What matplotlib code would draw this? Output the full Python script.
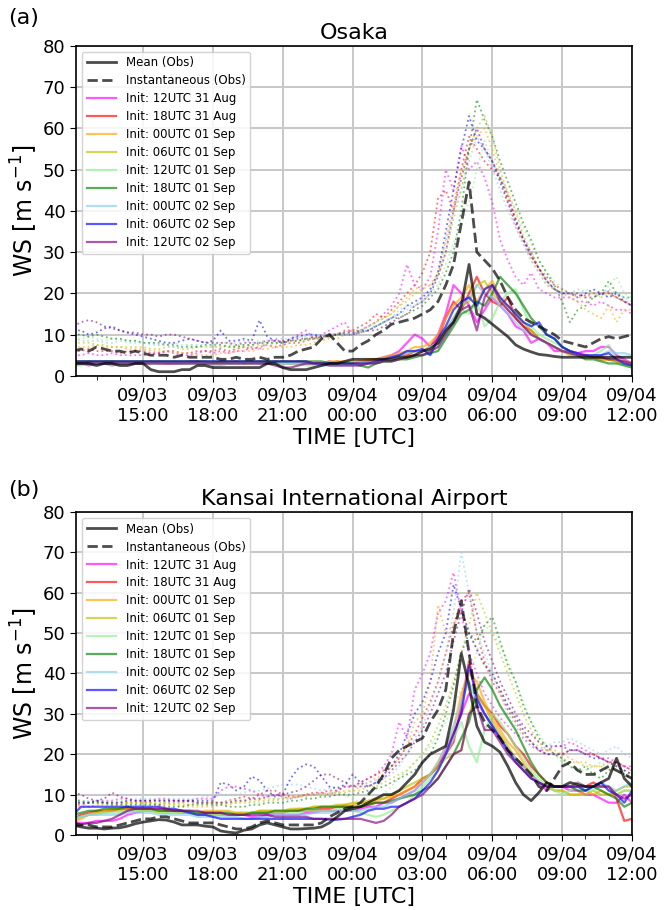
import numpy as np
import matplotlib
matplotlib.use("Agg")
import matplotlib.pyplot as plt

# ---------------- time axis (hours since 09/03 00:00 UTC), 20-min steps 09/03 12:00 -> 09/04 12:00
hours = 12 + np.arange(73) / 3.0

xtick_hours = [15, 18, 21, 24, 27, 30, 33, 36]
xtick_labels = ['09/03\n15:00', '09/03\n18:00', '09/03\n21:00', '09/04\n00:00',
                '09/04\n03:00', '09/04\n06:00', '09/04\n09:00', '09/04\n12:00']
minor_hours = [h for h in range(13, 36) if h not in xtick_hours]

init_labels = ['Init: 12UTC 31 Aug', 'Init: 18UTC 31 Aug', 'Init: 00UTC 01 Sep',
               'Init: 06UTC 01 Sep', 'Init: 12UTC 01 Sep', 'Init: 18UTC 01 Sep',
               'Init: 00UTC 02 Sep', 'Init: 06UTC 02 Sep', 'Init: 12UTC 02 Sep']
init_colors = ['magenta', 'red', 'orange', 'y', 'lightgreen', 'green',
               'skyblue', 'blue', 'purple']

# ======================= OSAKA =======================
osaka_obs_mean = [
    3, 3, 3, 2.5, 3, 3, 2.5, 2.5, 3,
    3, 1.5, 1, 1, 1, 1.5, 1.5, 2.5, 2.5,
    2, 2, 2, 2, 2, 2, 2, 3, 3,
    2, 1.5, 1.5, 1.5, 2, 2.5, 3, 3, 3.5,
    4, 4, 4, 4, 4, 4, 4.5, 4.5, 5,
    6, 6.5, 8, 11, 13, 17, 27, 15, 14,
    12.5, 11, 9.5, 7.5, 6.5, 5.8, 5.2, 5, 4.7,
    4.5, 4.5, 4.5, 4.5, 4.5, 4.5, 4.5, 4.5, 4.5,
    4.5]
osaka_obs_inst = [
    6, 6.5, 6, 7, 6.5, 6, 6, 5.5, 6,
    5.5, 5, 5, 5, 4.5, 5, 4.5, 4.5, 4.5,
    4.5, 4, 4, 4.5, 4, 4, 4.5, 4, 4.5,
    4.5, 5, 6, 6.5, 7, 9, 10, 8, 6,
    6, 7.5, 8.5, 10, 11, 12.5, 13, 13.5, 14,
    15, 16, 18, 22, 27, 37, 47, 30, 28,
    26, 23, 19, 16, 14, 13, 12, 11, 10,
    8.5, 8, 7.5, 7, 8, 9, 9.5, 9, 9.5,
    10]

osaka_mean_12z31 = [
    2.5, 3, 2.5, 3, 3, 2.5, 3, 3, 3,
    3, 3, 3.5, 3, 3, 3, 3.5, 3.5, 3,
    3, 3.5, 3, 3, 3, 3.5, 3, 3, 3.5,
    3, 3, 3.5, 3, 3, 3, 3.5, 3, 3,
    3, 3.5, 3.5, 4, 4.5, 5, 6, 8, 10,
    9, 7, 10, 15, 22, 20, 17, 13, 16,
    19, 17, 15, 12, 11, 8, 9, 8, 6,
    6, 6, 5.5, 6, 6, 7, 7, 5, 4,
    3]
osaka_mean_18z31 = [
    3, 3, 3.5, 3, 3, 3.5, 3, 3, 3,
    3, 3.5, 3, 3, 3, 3, 3, 3.5, 3,
    3, 3, 3, 3.5, 3, 3, 3, 3.5, 3,
    3.5, 3, 3, 3, 3, 3, 3, 3.5, 3,
    3, 3, 3.5, 4, 4, 4.5, 5, 5, 6,
    6, 7, 9, 14, 18, 16, 20, 24, 20,
    18, 17, 19, 14, 12, 11, 9, 8, 7,
    6, 5.5, 5, 4.5, 4.5, 4, 4, 3.5, 3,
    2.5]
osaka_mean_00z01 = [
    3.5, 3.5, 3.5, 3.5, 3.5, 3.5, 3.5, 3.5, 3.5,
    3.5, 3.5, 3.5, 3.5, 3.5, 3.5, 3.5, 3.5, 3.5,
    3, 3, 3.5, 3.5, 3, 3.5, 3.5, 3.5, 3.5,
    3.5, 3.5, 3.5, 3.5, 3, 3, 3.5, 3.5, 3.5,
    3.5, 3.5, 4, 4, 4.5, 5, 5.5, 6, 7,
    7, 8, 10, 14, 17, 19, 22, 18, 21,
    23, 19, 16, 14, 12, 10, 9, 8, 7,
    6, 5.5, 5, 4.5, 4.5, 4, 4, 3.5, 3.5,
    3]
osaka_mean_06z01 = [
    3, 3, 3, 3, 3.5, 3.5, 3, 3, 3,
    3, 3, 3, 3, 3.5, 3, 3, 3, 3,
    3, 3, 3, 3, 3, 3, 3.5, 3.5, 3,
    3, 3, 3, 3, 3, 3, 3, 3, 3,
    3, 3, 3.5, 3.5, 4, 4.5, 5, 5.5, 6,
    6, 7, 8, 11, 14, 17, 18, 22, 23,
    20, 18, 17, 15, 13, 11, 9, 8, 7,
    6, 5, 5, 4.5, 4.5, 4, 4, 3.5, 3,
    2.5]
osaka_mean_12z01 = [
    2.5, 2.5, 3, 3, 3, 2.5, 3, 3, 3,
    3, 3, 3, 3.5, 3, 3, 3, 3, 3,
    3, 3, 3, 3, 3.5, 3, 3, 3, 3,
    3, 3, 3, 2.5, 2.5, 3, 3, 3, 3,
    3, 2.5, 3, 3, 3.5, 3.5, 4, 4.5, 5,
    5, 5.5, 7, 10, 13, 16, 15, 18, 12,
    14, 18, 20, 21, 16, 12, 10, 9, 8,
    7, 6, 5, 4.5, 5, 6, 7.5, 4, 3,
    3]
osaka_mean_18z01 = [
    3.5, 3.5, 3.5, 3.5, 3.5, 3.5, 3.5, 3.5, 3.5,
    3.5, 3.5, 3.5, 3.5, 3.5, 3.5, 3.5, 3.5, 3.5,
    3.5, 3.5, 3.5, 3.5, 3.5, 3.5, 3.5, 3.5, 3.5,
    3.5, 3.5, 3.5, 3.5, 3.5, 3.5, 3, 3, 3,
    3, 2.5, 2, 3, 3.5, 3.5, 4, 4, 4.5,
    5, 5.5, 6, 9, 12, 15, 16, 18, 17,
    20, 24, 22, 20, 17, 14, 12, 10, 9,
    7, 6, 5, 4, 4, 3.5, 3, 3, 2.5,
    2]
osaka_mean_00z02 = [
    3, 3, 3, 3, 3, 3, 3, 3, 3,
    3, 3, 3, 3, 3, 3, 3, 3, 3,
    2.5, 2.5, 3, 3, 3, 3, 3, 3, 3,
    3, 3, 3, 3, 3, 2.5, 2.5, 2.5, 2.5,
    2.5, 3, 3, 3.5, 4, 4.5, 5, 5.5, 6,
    6, 7, 8, 11, 14, 17, 19, 22, 20,
    19, 17, 15, 13, 11, 10, 9, 8, 7,
    6, 5.5, 5, 5, 4.5, 5, 6, 5.5, 5.5,
    5]
osaka_mean_06z02 = [
    3.5, 3.5, 3.5, 3.5, 3.5, 3.5, 3.5, 3.5, 3.5,
    3.5, 3.5, 3.5, 3.5, 3.5, 3.5, 3.5, 3.5, 3.5,
    3.5, 3.5, 3.5, 3.5, 3.5, 3.5, 3.5, 3.5, 3.5,
    3.5, 3.5, 3.5, 3.5, 3, 3, 3, 3, 3,
    3, 3, 3, 3.5, 4, 4.5, 5, 6, 6,
    6.5, 5, 9, 12, 16, 18, 19, 17, 21,
    22, 19, 17, 15, 13, 12, 13, 10, 9,
    7, 6, 5.5, 5, 5, 5, 5.5, 4, 3,
    2.5]
osaka_mean_12z02 = [
    3, 3, 3, 3, 3, 3, 3, 3, 3,
    3, 3, 3, 3, 3, 3, 3, 3, 3,
    3, 3, 3, 3, 3, 3, 3, 3, 2.5,
    2, 2, 2.5, 3, 3, 3, 2.5, 2.5, 2.5,
    2.5, 2.5, 3, 3, 3.5, 3.5, 4, 4.5, 5,
    5, 6, 7, 10, 13, 16, 17, 11, 19,
    22, 18, 16, 14, 12, 10, 9, 8, 7,
    6, 5.5, 5, 5, 4.5, 4.5, 4, 4, 3.5,
    3]

osaka_max_12z31 = [
    5, 5, 5.5, 5, 5, 5.5, 5, 5, 5,
    5, 5, 5.5, 6, 5.5, 5, 5, 5.5, 6,
    5.5, 6, 5.5, 6, 6, 7, 6.5, 8, 9,
    8, 9, 10, 11, 9, 10, 11, 12, 13,
    10, 11, 12, 13, 15, 17, 20, 27, 22,
    21, 24, 35, 50, 45, 56, 50, 52, 48,
    42, 33, 28, 24, 22, 25, 21, 20, 19,
    19, 19, 18, 18, 17, 18, 17, 16, 16,
    15]
osaka_max_18z31 = [
    6, 6, 6.5, 6, 6, 6, 5.5, 6, 6,
    6, 5.5, 5.5, 6, 6, 5.5, 5.5, 6, 6,
    6, 6.5, 6, 6.5, 7, 6.5, 7, 7.5, 7,
    7.5, 8, 8, 8.5, 9, 9, 10, 10, 11,
    11, 12, 13, 15, 14, 16, 18, 20, 22,
    25, 30, 43, 45, 40, 50, 58, 55, 52,
    50, 48, 44, 38, 33, 30, 26, 24, 22,
    21, 20, 19.5, 19.5, 20, 20, 20.5, 19, 18,
    17]
osaka_max_00z01 = [
    7, 7, 7, 7.5, 7, 7, 7, 6.5, 6.5,
    6.5, 6, 6, 6, 5.5, 5.5, 5.5, 5, 5,
    5, 5.5, 5.5, 6, 6, 6, 6.5, 6.5, 7,
    7, 7, 7.5, 7.5, 8, 8.5, 9, 9, 10,
    10, 11, 12, 13, 14, 15, 17, 19, 21,
    22, 22, 25, 33, 42, 50, 55, 58, 60,
    55, 48, 42, 36, 32, 28, 25, 22, 21,
    20, 19, 18, 16, 15, 14, 17, 13, 16,
    16]
osaka_max_06z01 = [
    8, 8, 8, 7.5, 7.5, 7, 7, 7, 7,
    7, 6.5, 6.5, 7, 7, 6.5, 6.5, 7, 7,
    7, 7, 7.5, 7, 7, 7.5, 7.5, 8, 8,
    8, 8.5, 8.5, 9, 9, 9.5, 10, 10, 10.5,
    11, 11, 12, 13, 14, 15, 17, 18, 20,
    21, 22, 24, 30, 38, 45, 55, 60, 63,
    58, 50, 44, 40, 34, 30, 26, 23, 21,
    20, 20, 19, 19, 20, 19, 20, 19, 18,
    18]
osaka_max_12z01 = [
    9, 9, 9.5, 9, 8.5, 9, 9, 8.5, 8.5,
    8, 8, 7.5, 7.5, 8, 7.5, 7.5, 7, 7,
    7, 7, 7, 7.5, 7.5, 7, 7, 7.5, 7.5,
    8, 8, 8.5, 8.5, 9, 9, 9.5, 10, 10,
    10, 11, 12, 12, 13, 14, 15, 16, 17,
    18, 20, 22, 27, 32, 37, 42, 50, 57,
    52, 48, 45, 40, 36, 32, 28, 25, 23,
    21, 20, 20, 21, 20, 19, 22, 24, 20,
    19]
osaka_max_18z01 = [
    10, 10, 9.5, 10, 9.5, 9, 9, 8.5, 8.5,
    8, 8, 8, 7.5, 7.5, 7, 7, 7, 7.5,
    7.5, 7.5, 7, 7, 7.5, 7.5, 8, 8, 8,
    8, 8.5, 8.5, 9, 9, 9.5, 9.5, 10, 10,
    10, 10.5, 11, 12, 13, 14, 14, 15, 16,
    17, 19, 21, 25, 30, 40, 55, 67, 62,
    58, 52, 47, 42, 37, 33, 28, 25, 22,
    18, 13, 16, 17, 19, 20, 23, 20, 19,
    19]
osaka_max_00z02 = [
    9, 8.5, 8.5, 8.5, 8, 8, 8.5, 8, 8,
    8, 7.5, 7.5, 7.5, 7, 7, 7.5, 7.5, 7.5,
    7.5, 8, 8, 8, 8.5, 8, 8.5, 8.5, 9,
    9, 9, 9.5, 9.5, 10, 10, 10, 10.5, 10,
    10, 11, 12, 12, 13, 14, 16, 17, 17,
    18, 20, 25, 32, 40, 45, 52, 58, 55,
    50, 45, 40, 36, 32, 28, 25, 22, 21,
    20, 20, 21, 20, 20, 20, 21, 20, 19,
    18]
osaka_max_06z02 = [
    11, 11, 10, 10.5, 11.5, 12, 11, 10.5, 10,
    9.5, 9, 8.5, 8, 8, 8.5, 9, 8.5, 8,
    8.5, 11, 8.5, 8.5, 9, 8.5, 13.5, 9.5, 8.5,
    8, 9, 9.5, 10, 10, 9.5, 10, 10, 10.5,
    10.5, 11, 11, 12, 13, 14, 15, 17, 18,
    19, 21, 25, 35, 45, 55, 63, 57, 55,
    52, 47, 42, 37, 33, 29, 26, 23, 21,
    20, 20, 19, 20, 21, 20, 19, 20, 18,
    17]
osaka_max_12z02 = [
    12, 13, 13.5, 13, 12, 11.5, 11, 10.5, 10.5,
    10, 10, 9.5, 10, 10, 9.5, 9, 8.5, 8,
    8, 8, 8, 7.5, 8, 8, 8, 8.5, 8.5,
    8.5, 8.5, 9, 9, 9.5, 9.5, 9.5, 10, 10,
    10, 10.5, 11, 11, 12, 13, 14, 15, 17,
    18, 20, 24, 30, 40, 48, 55, 60, 55,
    52, 48, 43, 38, 33, 29, 26, 23, 21,
    20, 20, 20, 19, 19, 20, 20, 19, 18,
    17]

# ======================= KANSAI =======================
kansai_obs_mean = [
    2.5, 2, 1.7, 1.7, 1.5, 1.7, 1.8, 2.2, 2.8,
    3.2, 3.5, 3.8, 3.7, 3.2, 2.5, 2.5, 2.5, 2.2,
    2, 1, 0.7, 0.5, 1.2, 1.5, 2.5, 3, 2.5,
    2, 1.5, 1.5, 1.6, 1.7, 2, 3, 4.5, 6,
    6.5, 7, 8, 9, 10, 10, 11, 13, 15,
    18, 20, 21, 22, 31, 45, 37, 27, 23,
    22, 20.5, 17, 13, 10, 8.5, 10.5, 13, 12,
    12, 13, 12.5, 12, 12, 13, 14, 19, 14,
    12]
kansai_obs_inst = [
    3, 2.5, 2.5, 2, 2, 2, 2.5, 3, 3.5,
    4, 4, 4.5, 4.5, 4, 3.5, 3, 3, 3,
    3, 2.5, 2, 1.5, 1.5, 2, 3, 3.5, 3,
    2.5, 2.5, 2.5, 2.5, 2.5, 3, 4.5, 5.5, 6.5,
    7, 8, 10, 12, 15, 19, 21, 22, 23,
    24, 28, 31, 36, 50, 58, 45, 32, 28,
    26, 24, 21, 19, 17, 15, 12, 11, 14,
    17, 18, 16, 15, 15, 16, 17, 16, 15,
    14]

kansai_mean_12z31 = [
    3, 3, 3, 3.5, 3.5, 3.5, 4, 5, 5.5,
    6, 6, 6.5, 6, 6, 6, 5.5, 5.5, 5,
    5, 5.5, 5, 5, 5, 4.5, 4.5, 5, 5,
    5, 5, 5, 5.5, 5.5, 6, 6, 6, 6,
    6, 6.5, 7, 7, 8, 8, 9, 10, 11,
    13, 15, 17, 21, 25, 30, 35, 33, 30,
    27, 24, 21, 19, 17, 15, 13, 11, 12,
    12, 11, 11, 10, 10, 9, 8, 8, 10,
    8]
kansai_mean_18z31 = [
    4, 5, 5.5, 6, 6, 6, 6.5, 6.5, 6.5,
    6.5, 6.5, 6, 6, 6, 5.5, 5.5, 5.5, 5.5,
    5.5, 5, 5, 5, 5, 5.5, 5.5, 5.5, 5.5,
    5.5, 6, 6, 6, 6, 6.5, 6.5, 7, 7,
    7, 7, 7.5, 8, 8, 9, 10, 11, 12,
    14, 15, 17, 20, 23, 32, 43, 35, 32,
    30, 27, 25, 22, 20, 17, 15, 13, 12,
    12, 12, 13, 12, 13, 12, 12, 9, 3.5,
    4]
kansai_mean_00z01 = [
    3, 4, 5, 5.5, 6, 6.5, 6.5, 7, 6.5,
    6.5, 6, 6, 6.5, 6, 6, 5.5, 5.5, 6,
    6, 6, 6, 5.5, 5.5, 5.5, 6, 6, 6,
    6, 6, 6.5, 6.5, 7, 7, 7, 7, 7.5,
    7.5, 8, 8, 8.5, 9, 9.5, 10, 11, 12,
    13, 15, 18, 22, 26, 35, 40, 38, 33,
    29, 26, 23, 21, 18, 15, 13, 12, 11,
    11, 10, 10, 11, 10, 11, 10, 10, 11,
    11]
kansai_mean_06z01 = [
    3.5, 4.5, 5, 5.5, 5.5, 6, 6, 6, 6,
    6, 6, 5.5, 5.5, 5.5, 5.5, 5.5, 5, 5,
    5, 5, 5, 5.5, 5.5, 5.5, 6, 6, 6,
    6, 6.5, 6.5, 6.5, 7, 7, 7, 7.5, 7.5,
    8, 8, 8.5, 9, 9, 10, 11, 12, 13,
    14, 15, 17, 19, 20, 21, 30, 35, 32,
    28, 25, 22, 19, 17, 15, 13, 12, 11,
    11, 10, 10, 10, 11, 10, 10, 11, 12,
    12]
kansai_mean_12z01 = [
    4, 4.5, 5, 5, 5.5, 5.5, 5.5, 6, 6,
    6, 6, 6, 5.5, 5.5, 5.5, 5.5, 5.5, 5,
    5, 5, 5, 5, 5, 5.5, 5.5, 5.5, 5.5,
    5.5, 5.5, 5.5, 6, 6, 6, 6, 6.5, 6.5,
    6, 5.5, 5, 4.5, 5, 6, 7, 8, 10,
    12, 14, 16, 20, 24, 28, 22, 18, 26,
    30, 28, 25, 22, 19, 16, 14, 12, 11,
    10, 11, 12, 11, 11, 12, 12, 10, 11,
    11]
kansai_mean_18z01 = [
    5, 5.5, 6, 6, 6.5, 6.5, 6.5, 7, 6.5,
    6.5, 6.5, 6, 6, 6, 6, 6, 5.5, 5.5,
    5.5, 5.5, 5.5, 5, 5, 5.5, 5.5, 5.5, 6,
    6, 6, 6, 6.5, 6.5, 7, 7, 7, 7,
    7, 7, 7.5, 8, 8, 8.5, 9, 9.5, 10,
    11, 12, 14, 17, 20, 24, 28, 36, 39,
    36, 32, 29, 26, 22, 18, 15, 13, 12,
    12, 12, 11, 11, 12, 11, 10, 9, 7,
    8]
kansai_mean_00z02 = [
    4, 4.5, 5, 5, 5, 5, 5, 5.5, 5.5,
    5.5, 5.5, 5, 5, 5, 5, 5, 4.5, 4.5,
    4.5, 4.5, 4.5, 4.5, 4, 4, 4.5, 4.5, 5,
    5, 5, 5, 5, 5.5, 5.5, 5.5, 6, 6,
    6, 6, 6.5, 7, 7, 8, 9, 10, 11,
    13, 15, 18, 22, 27, 33, 38, 33, 30,
    27, 24, 21, 19, 17, 15, 13, 12, 12,
    12, 12, 13, 12, 12, 13, 12, 11, 12,
    13]
kansai_mean_06z02 = [
    5, 7, 7, 7, 7, 7, 7, 7, 7,
    7, 7, 7, 6.5, 6.5, 6, 5.5, 5, 5,
    4.5, 4, 4, 4, 4, 4, 4, 4, 4,
    4, 4, 4, 4, 4, 4, 3.8, 3.8, 4,
    4.5, 5, 6, 6.5, 6.5, 7, 7, 8, 9,
    11, 13, 16, 20, 25, 30, 42, 34, 30,
    27, 24, 21, 18, 16, 14, 13, 12, 12,
    12, 12, 12, 11, 12, 13, 11, 10, 8,
    11]
kansai_mean_12z02 = [
    2, 2.5, 3, 3, 3.5, 4, 5, 6, 6.5,
    6.5, 6.5, 6.5, 6.5, 6, 6, 6, 6, 5.5,
    5.5, 5.5, 5, 5, 5, 5, 5, 5, 4.5,
    4.5, 4.5, 4.5, 4.5, 4, 4, 4, 4, 4,
    4, 4, 3.5, 3, 3.5, 5, 7, 8, 9,
    10, 12, 14, 17, 20, 21, 30, 32, 26,
    26, 23, 20, 18, 16, 14, 13, 12, 12,
    12, 12, 12, 12, 12, 12, 12, 10, 9,
    10]

kansai_max_12z31 = [
    8, 8, 8, 8.5, 8.5, 8.5, 9, 9, 8.5,
    8.5, 8.5, 9, 9, 8.5, 8.5, 8.5, 9, 9,
    9, 11, 12, 12, 11.5, 11, 10, 9.5, 10,
    9.5, 9, 9.5, 10, 10, 10.5, 10, 11, 12,
    12, 13, 14, 15, 17, 20, 28, 24, 36,
    40, 45, 55, 58, 65, 55, 45, 40, 35,
    32, 29, 27, 25, 24, 22, 21, 21, 22,
    22, 23, 22, 21, 20, 19, 19, 18, 17,
    17]
kansai_max_18z31 = [
    7.5, 7.5, 8, 8, 8, 8, 8, 8, 8,
    8, 8, 7.5, 8, 8, 8, 8.5, 8, 8,
    8, 8, 8.5, 9, 9.5, 9, 10, 11, 11,
    10, 9.5, 9.5, 10, 10.5, 10.5, 11, 11, 12,
    12, 13, 14, 15, 16, 17, 19, 22, 25,
    29, 33, 38, 45, 52, 58, 60, 50, 43,
    38, 35, 31, 28, 25, 23, 21, 20, 20,
    20, 21, 21, 20, 20, 19, 18, 18, 17,
    16]
kansai_max_00z01 = [
    7, 7, 7, 7.5, 7.5, 7.5, 7.5, 8, 8,
    8, 8, 7.5, 7.5, 7.5, 7, 7, 7, 7,
    7, 7.5, 7.5, 8, 8, 8, 8.5, 8.5, 8.5,
    9, 9, 9.5, 9.5, 10, 10, 10.5, 10.5, 11,
    11, 12, 13, 14, 15, 17, 19, 22, 28,
    30, 38, 57, 50, 52, 56, 50, 46, 42,
    40, 36, 32, 28, 25, 23, 22, 21, 21,
    20, 19, 18, 18, 17, 17, 18, 17, 16,
    15]
kansai_max_06z01 = [
    8, 8, 8, 8, 8, 8, 8, 8, 8,
    8, 8, 8, 8, 7.5, 7.5, 7.5, 8, 8,
    8, 8, 8, 8, 8.5, 8.5, 9, 9, 9,
    9, 9.5, 9.5, 10, 10, 10, 10, 10.5, 10.5,
    11, 11, 12, 12, 13, 14, 15, 16, 18,
    20, 23, 27, 32, 38, 45, 52, 60, 55,
    50, 45, 40, 35, 30, 26, 23, 21, 20,
    19, 18, 18, 17, 17, 17, 16, 16, 15,
    15]
kansai_max_12z01 = [
    9, 8.5, 8, 8, 7.5, 7.5, 7.5, 7.5, 7.5,
    7.5, 7.5, 8, 8, 8, 8, 8, 8, 8,
    8, 8, 8.5, 8.5, 8.5, 8, 8, 8.5, 9,
    9, 9, 9.5, 9.5, 10, 10, 10.5, 10.5, 10,
    9, 8, 8, 9, 10, 12, 14, 16, 18,
    20, 22, 25, 28, 32, 36, 40, 45, 52,
    50, 47, 43, 38, 33, 28, 25, 22, 20,
    18, 17, 16, 16, 17, 18, 17, 16, 16,
    16]
kansai_max_18z01 = [
    8.5, 8.5, 8, 8, 8, 7.5, 7.5, 7.5, 7.5,
    7.5, 7.5, 7.5, 7, 7, 7, 7.5, 7.5, 7.5,
    7.5, 7.5, 7, 7, 7, 7.5, 7.5, 8, 8,
    8, 8.5, 8.5, 9, 9, 9.5, 9.5, 10, 10,
    10, 10.5, 11, 11.5, 12, 13, 14, 15, 16,
    18, 20, 24, 30, 37, 45, 50, 48, 52,
    54, 48, 42, 38, 32, 28, 24, 22, 20,
    19, 17, 16, 17, 15, 14, 16, 18, 15,
    14]
kansai_max_00z02 = [
    8, 8, 8.5, 8.5, 8.5, 8.5, 8.5, 8.5, 9,
    9, 9, 9, 9, 9, 9, 9, 9, 9.5,
    9.5, 10, 10, 10, 10.5, 11, 11, 11.5, 12,
    12.5, 12.5, 12.5, 12, 11.5, 11, 11.5, 12, 12,
    12, 12.5, 13, 13.5, 14, 15, 17, 20, 24,
    27, 32, 38, 45, 55, 70, 60, 50, 45,
    40, 35, 30, 27, 24, 22, 21, 22, 23,
    23, 24, 23, 22, 21, 20, 21, 22, 20,
    19]
kansai_max_06z02 = [
    8, 8, 8, 8.5, 8, 8, 8, 8.5, 8.5,
    8.5, 8.5, 8.5, 8.5, 8.5, 8.5, 8.5, 8.5, 8.5,
    8.5, 13, 12.5, 11, 12, 14.5, 13.5, 11, 9.5,
    10, 14, 16.5, 17.5, 17, 14.5, 12, 11.5, 12.5,
    15, 13, 12, 13, 15, 17, 20, 25, 30,
    33, 38, 45, 50, 62, 56, 50, 46, 42,
    40, 36, 32, 29, 26, 23, 21, 20, 20,
    20, 21, 21, 20, 19, 19, 18, 17, 16,
    15]
kansai_max_12z02 = [
    10.5, 10, 9, 8.5, 9, 10.5, 9.5, 9, 8.5,
    8.5, 8.5, 8.5, 8.5, 8.5, 8.5, 8.5, 8, 8,
    8, 8, 8, 8.5, 8.5, 9, 9, 9.5, 10,
    10, 10.5, 11, 12, 13.5, 15, 15, 14, 13,
    12, 12, 12, 13, 14, 16, 18, 20, 23,
    26, 30, 35, 40, 48, 55, 61, 55, 48,
    43, 38, 34, 30, 27, 25, 23, 22, 22,
    22, 21, 21, 20, 20, 19, 18, 18, 17,
    16]

osaka_means = [osaka_mean_12z31, osaka_mean_18z31, osaka_mean_00z01, osaka_mean_06z01,
               osaka_mean_12z01, osaka_mean_18z01, osaka_mean_00z02, osaka_mean_06z02,
               osaka_mean_12z02]
osaka_maxes = [osaka_max_12z31, osaka_max_18z31, osaka_max_00z01, osaka_max_06z01,
               osaka_max_12z01, osaka_max_18z01, osaka_max_00z02, osaka_max_06z02,
               osaka_max_12z02]
kansai_means = [kansai_mean_12z31, kansai_mean_18z31, kansai_mean_00z01, kansai_mean_06z01,
                kansai_mean_12z01, kansai_mean_18z01, kansai_mean_00z02, kansai_mean_06z02,
                kansai_mean_12z02]
kansai_maxes = [kansai_max_12z31, kansai_max_18z31, kansai_max_00z01, kansai_max_06z01,
                kansai_max_12z01, kansai_max_18z01, kansai_max_00z02, kansai_max_06z02,
                kansai_max_12z02]

panels = [
    dict(pos=[0.114, 0.587, 0.8336, 0.3626], title='Osaka', tag='(a)', tag_y=1 - 18 / 910,
         obs_mean=osaka_obs_mean, obs_inst=osaka_obs_inst, means=osaka_means, maxes=osaka_maxes),
    dict(pos=[0.114, 0.0824, 0.8336, 0.355], title='Kansai International Airport', tag='(b)',
         tag_y=1 - 490 / 910,
         obs_mean=kansai_obs_mean, obs_inst=kansai_obs_inst, means=kansai_means, maxes=kansai_maxes),
]

for p in panels:
    for s in [p['obs_mean'], p['obs_inst']] + p['means'] + p['maxes']:
        assert len(s) == len(hours), len(s)

fig = plt.figure(figsize=(6.67, 9.10), dpi=100)

for p in panels:
    ax = fig.add_axes(p['pos'])
    for vals, c in zip(p['maxes'], init_colors):
        ax.plot(hours, vals, color=c, ls=':', lw=1.3, alpha=0.55, zorder=2)
    mean_handles = []
    for vals, c, lab in zip(p['means'], init_colors, init_labels):
        h, = ax.plot(hours, vals, color=c, lw=1.6, alpha=0.65, label=lab, zorder=2.5)
        mean_handles.append(h)
    h_mean, = ax.plot(hours, p['obs_mean'], color='k', lw=2, alpha=0.7,
                      label='Mean (Obs)', zorder=3)
    h_inst, = ax.plot(hours, p['obs_inst'], color='k', ls='--', lw=2, alpha=0.7,
                      label='Instantaneous (Obs)', zorder=3)
    handles = [h_mean, h_inst] + mean_handles
    ax.legend(handles, [h.get_label() for h in handles], loc='upper left', fontsize=8.5,
              labelspacing=0.42, handlelength=2.5, framealpha=0.85, borderaxespad=0.5)

    ax.set_xlim(12.12, 36)
    ax.set_ylim(0, 80)
    ax.set_yticks(range(0, 81, 10))
    ax.set_xticks(xtick_hours)
    ax.set_xticklabels(xtick_labels)
    ax.set_xticks(minor_hours, minor=True)
    ax.tick_params(axis='both', which='major', labelsize=13, length=4)
    ax.tick_params(axis='x', which='minor', length=3)
    ax.grid(True, which='major', color='#c8c8c8', lw=1.4)
    ax.set_axisbelow(True)
    for sp in ax.spines.values():
        sp.set_linewidth(1.2)
    ax.set_ylabel('WS [m s$^{-1}$]', fontsize=17, labelpad=2)
    ax.set_xlabel('TIME [UTC]', fontsize=16, labelpad=2)
    ax.set_title(p['title'], fontsize=16, pad=5)
    fig.text(0.012, p['tag_y'], p['tag'], fontsize=16, va='center', ha='left')

fig.savefig('out.png', dpi=100)
